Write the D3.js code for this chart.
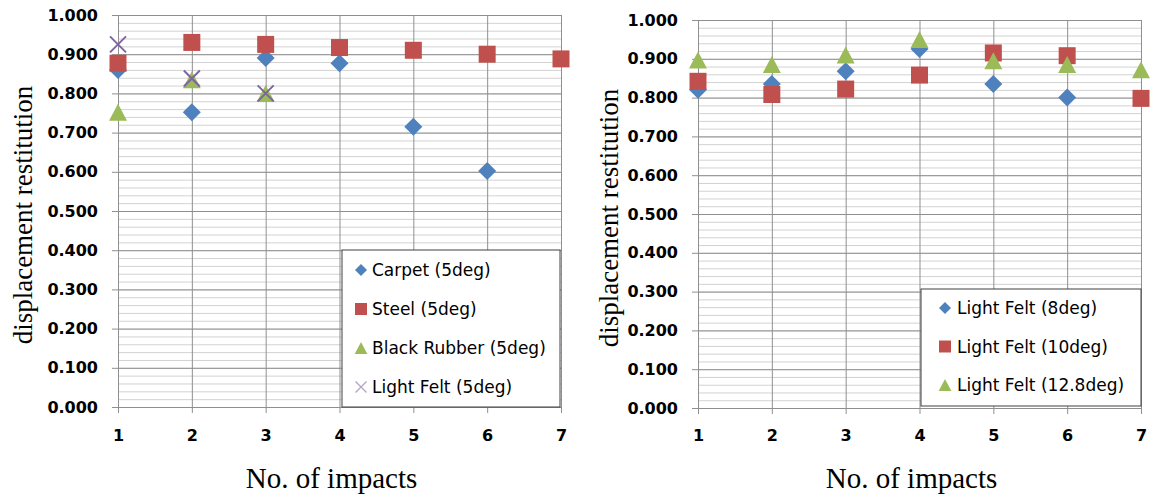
<!DOCTYPE html>
<html>
<head>
<meta charset="utf-8">
<script src="https://cdn.jsdelivr.net/npm/d3@7"></script>
<style>
  body { margin: 0; background: #fff; }
  svg { display: block; }
</style>
</head>
<body>
<div id="chart"></div>
<script>
// data
const impacts = [1, 2, 3, 4, 5, 6, 7]
const yTicks = [0, 0.1, 0.2, 0.3, 0.4, 0.5, 0.6, 0.7, 0.8, 0.9, 1.0]

const carpet5 = [0.860, 0.752, 0.890, 0.877, 0.715, 0.602]
const steel5 = [0.877, 0.930, 0.925, 0.917, 0.910, 0.900, 0.888]
const rubber5 = [0.752, 0.835, 0.800]
const felt5 = [0.925, 0.838, 0.800]

const felt8 = [0.820, 0.835, 0.868, 0.925, 0.835, 0.800]
const felt10 = [0.842, 0.808, 0.822, 0.858, 0.915, 0.908, 0.798]
const felt128 = [0.897, 0.885, 0.910, 0.950, 0.895, 0.885, 0.872]

const leftNames = ["Carpet (5deg)", "Steel (5deg)", "Black Rubber (5deg)", "Light Felt (5deg)"]
const rightNames = ["Light Felt (8deg)", "Light Felt (10deg)", "Light Felt (12.8deg)"]

const BLUE = "#4f81bd", RED = "#c0504d", GREEN = "#9bbb59", PURPLE = "#8064a2"

const svg = d3.select("#chart").append("svg")
  .attr("width", 1152)
  .attr("height", 497)

// marker paths, s = half size
function markerPath(type, s) {
  if (type === "diamond") return `M0,${-s}L${s},0L0,${s}L${-s},0Z`
  if (type === "square") return `M${-s},${-s}H${s}V${s}H${-s}Z`
  if (type === "triangle") return `M0,${-s}L${s * 1.06},${s}L${-s * 1.06},${s}Z`
  return `M${-s},${-s}L${s},${s}M${-s},${s}L${s},${-s}`
}

function drawMarker(sel, type, color, s) {
  const p = sel.append("path").attr("d", markerPath(type, s))
  if (type === "x") p.attr("fill", "none").attr("stroke", color).attr("stroke-width", 2)
  else p.attr("fill", color)
  return p
}

function drawChart(cfg) {
  const W = cfg.right - cfg.left
  const H = cfg.bottom - cfg.top
  const g = svg.append("g").attr("transform", `translate(${cfg.left}, ${cfg.top})`)

  const x = d3.scaleLinear().domain([1, 7]).range([0, W])
  const y = d3.scaleLinear().domain([0, 1]).range([H, 0])

  // minor horizontal grid
  g.append("g")
    .call(d3.axisLeft(y).ticks(50).tickSize(-W).tickFormat(""))
    .call(a => a.select(".domain").remove())
    .selectAll("line").attr("stroke", "#d2d2d2")

  // major horizontal grid
  g.append("g")
    .call(d3.axisLeft(y).tickValues(yTicks).tickSize(-W).tickFormat(""))
    .call(a => a.select(".domain").remove())
    .selectAll("line").attr("stroke", "#8f8f8f")

  // vertical grid
  g.append("g")
    .attr("transform", `translate(0, ${H})`)
    .call(d3.axisBottom(x).tickValues(impacts).tickSize(-H).tickFormat(""))
    .call(a => a.select(".domain").remove())
    .selectAll("line").attr("stroke", "#8f8f8f")

  // y axis
  const yAxis = g.append("g")
    .call(d3.axisLeft(y).tickValues(yTicks).tickSize(6).tickPadding(14).tickFormat(d3.format(".3f")))
  yAxis.select(".domain").attr("stroke", "#8f8f8f")
  yAxis.selectAll("line").attr("stroke", "#8f8f8f")
  yAxis.selectAll("text")
    .attr("font-family", "DejaVu Sans")
    .attr("font-weight", "bold")
    .attr("font-size", "16px")
    .attr("fill", "#000")

  // x axis
  const xAxis = g.append("g")
    .attr("transform", `translate(0, ${H})`)
    .call(d3.axisBottom(x).tickValues(impacts).tickSize(6).tickPadding(cfg.xPad).tickFormat(d3.format("d")))
  xAxis.select(".domain").attr("stroke", "#8f8f8f")
  xAxis.selectAll("line").attr("stroke", "#8f8f8f")
  xAxis.selectAll("text")
    .attr("font-family", "DejaVu Sans")
    .attr("font-weight", "bold")
    .attr("font-size", "16px")
    .attr("fill", "#000")

  // points
  cfg.series.forEach(s => {
    const pts = s.values.map((v, i) => ({ n: impacts[i], v: v }))
    g.append("g").selectAll("g")
      .data(pts)
      .enter().append("g")
      .attr("transform", d => `translate(${x(d.n)}, ${y(d.v)})`)
      .each(function () { drawMarker(d3.select(this), s.type, s.color, s.size) })
  })

  // legend
  const lg = svg.append("g").attr("transform", `translate(${cfg.legend.x}, ${cfg.legend.y})`)
  lg.append("rect")
    .attr("width", cfg.legend.w)
    .attr("height", cfg.legend.h)
    .attr("fill", "#fff")
    .attr("stroke", "#404040")
  cfg.series.forEach((s, i) => {
    const row = lg.append("g")
      .attr("transform", `translate(0, ${cfg.legend.first + i * cfg.legend.step})`)
    drawMarker(row.append("g").attr("transform", `translate(${cfg.legend.mx}, 0)`),
      s.type, s.color, s.type === "x" ? 5.5 : 6)
      .attr("stroke-width", s.type === "x" ? 1.3 : null)
      .attr("stroke", s.type === "x" ? "#b3a2c7" : null)
    row.append("text")
      .attr("x", cfg.legend.tx)
      .attr("y", 0)
      .attr("dy", "0.36em")
      .attr("font-family", "DejaVu Sans")
      .attr("font-size", "17px")
      .attr("fill", "#000")
      .text(s.name)
  })

  // axis titles
  svg.append("text")
    .attr("x", cfg.left + W / 2 - 8)
    .attr("y", 488)
    .attr("text-anchor", "middle")
    .attr("font-family", "Liberation Serif")
    .attr("font-size", "29px")
    .attr("fill", "#000")
    .text("No. of impacts")

  svg.append("text")
    .attr("transform", `translate(${cfg.yTitleX}, ${cfg.top + H / 2 + 4}) rotate(-90)`)
    .attr("text-anchor", "middle")
    .attr("font-family", "Liberation Serif")
    .attr("font-size", "27px")
    .attr("fill", "#000")
    .text("displacement restitution")
}

drawChart({
  left: 118, right: 561, top: 15, bottom: 407, xPad: 17, yTitleX: 32,
  series: [
    { name: leftNames[0], values: carpet5, type: "diamond", color: BLUE, size: 9 },
    { name: leftNames[1], values: steel5, type: "square", color: RED, size: 8.5 },
    { name: leftNames[2], values: rubber5, type: "triangle", color: GREEN, size: 8.5 },
    { name: leftNames[3], values: felt5, type: "x", color: PURPLE, size: 8 }
  ],
  legend: { x: 342, y: 250, w: 218, h: 157, first: 20, step: 39, mx: 19, tx: 30 }
})

drawChart({
  left: 698, right: 1141, top: 20, bottom: 408, xPad: 16, yTitleX: 618,
  series: [
    { name: rightNames[0], values: felt8, type: "diamond", color: BLUE, size: 9 },
    { name: rightNames[1], values: felt10, type: "square", color: RED, size: 8.5 },
    { name: rightNames[2], values: felt128, type: "triangle", color: GREEN, size: 8.5 }
  ],
  legend: { x: 921, y: 289, w: 220, h: 117, first: 19, step: 38.5, mx: 24, tx: 36 }
})
</script>
</body>
</html>
